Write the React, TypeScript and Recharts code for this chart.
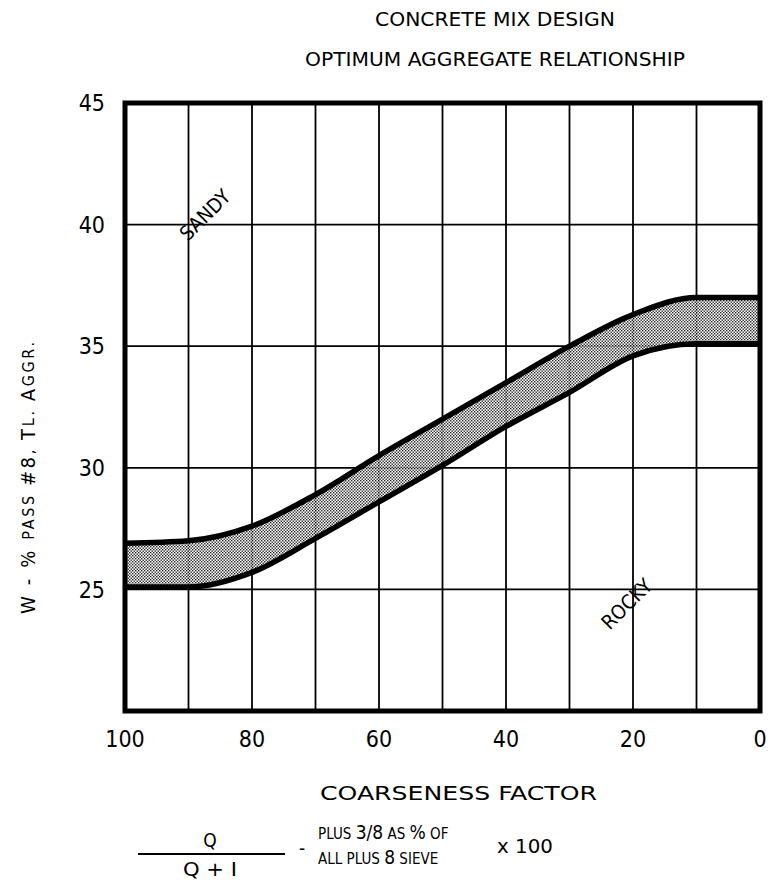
import React from 'react';
import { ComposedChart, Area, Line, XAxis, YAxis, CartesianGrid, ReferenceArea, ReferenceDot } from 'recharts';

// coarseness factor (x) and the two limit curves of the optimum band (W %)
const coarseness = [100, 90, 80, 70, 60, 50, 40, 30, 20, 10, 0];
const upperW = [26.9, 27.0, 27.6, 28.9, 30.5, 32.0, 33.5, 35.0, 36.3, 37.0, 37.0];
const lowerW = [25.1, 25.1, 25.7, 27.1, 28.6, 30.1, 31.7, 33.1, 34.6, 35.1, 35.1];

const xTicks = [100, 90, 80, 70, 60, 50, 40, 30, 20, 10, 0];
const yTicks = [20, 25, 30, 35, 40, 45];

const zones = [
  { name: 'SANDY', x: 87.4, y: 40.4 },
  { name: 'ROCKY', x: 21, y: 24.4 },
];

const data = coarseness.map((c, i) => ({
  x: c,
  upper: upperW[i],
  lower: lowerW[i],
  band: [lowerW[i], upperW[i]],
}));

const FONT = '"DejaVu Sans Condensed", "DejaVu Sans", sans-serif';

const ZoneLabel = (props: any) => {
  const { cx, cy, name } = props;
  return (
    <text
      x={cx}
      y={cy}
      textAnchor="middle"
      dominantBaseline="central"
      transform={`rotate(-45 ${cx} ${cy})`}
      fontFamily={FONT}
      fontSize={20}
      textLength={62}
      lengthAdjust="spacingAndGlyphs"
      fill="#000"
    >
      {name}
    </text>
  );
};

const App = () => {
  return (
    <div style={{ position: 'absolute', left: 0, top: 0, width: 777, height: 888, background: '#fff' }}>
      <ComposedChart
        width={777}
        height={888}
        data={data}
        margin={{ top: 103, right: 17, bottom: 147, left: 65 }}
      >
        <defs>
          <pattern id="dots" width="3" height="3" patternUnits="userSpaceOnUse">
            <rect width="3" height="3" fill="#fff" />
            <rect x="0" y="0" width="1.4" height="1.4" fill="#000" />
            <rect x="1.5" y="1.5" width="1.4" height="1.4" fill="#000" />
          </pattern>
        </defs>
        <CartesianGrid stroke="#000" strokeWidth={1.8} />
        <XAxis
          type="number"
          dataKey="x"
          domain={[0, 100]}
          reversed
          ticks={xTicks}
          interval={0}
          tickFormatter={(v: number) => (v % 20 === 0 ? String(v) : '')}
          axisLine={false}
          tickLine={false}
          tickSize={0}
          tickMargin={20}
          height={30}
          tick={{ fill: '#000', fontSize: 23, fontFamily: FONT }}
        />
        <YAxis
          type="number"
          domain={[20, 45]}
          ticks={yTicks}
          interval={0}
          tickFormatter={(v: number) => (v === 20 ? '' : String(v))}
          axisLine={false}
          tickLine={false}
          tickSize={0}
          tickMargin={20}
          width={60}
          tick={{ fill: '#000', fontSize: 23, fontFamily: FONT }}
        />
        <Area
          type="monotone"
          dataKey="band"
          stroke="none"
          fill="url(#dots)"
          fillOpacity={0.85}
          isAnimationActive={false}
        />
        <Line type="monotone" dataKey="upper" stroke="#000" strokeWidth={5.5} dot={false} isAnimationActive={false} />
        <Line type="monotone" dataKey="lower" stroke="#000" strokeWidth={5.5} dot={false} isAnimationActive={false} />
        {zones.map((z) => (
          <ReferenceDot
            key={z.name}
            x={z.x}
            y={z.y}
            r={0}
            ifOverflow="visible"
            shape={(p: any) => <ZoneLabel {...p} name={z.name} />}
          />
        ))}
        <ReferenceArea
          x1={0}
          x2={100}
          y1={20}
          y2={45}
          fill="none"
          fillOpacity={0}
          stroke="#000"
          strokeWidth={5}
          ifOverflow="visible"
        />
      </ComposedChart>
      <svg
        width={777}
        height={888}
        style={{ position: 'absolute', left: 0, top: 0, pointerEvents: 'none' }}
        fontFamily={FONT}
      >
        <text x={375} y={26} fontSize={20} textLength={240} lengthAdjust="spacingAndGlyphs">CONCRETE MIX DESIGN</text>
        <text x={305} y={66} fontSize={20} textLength={380} lengthAdjust="spacingAndGlyphs">OPTIMUM AGGREGATE RELATIONSHIP</text>
        <text x={320} y={800} fontSize={20} textLength={277} lengthAdjust="spacingAndGlyphs">COARSENESS FACTOR</text>
        <text x={210} y={847} textAnchor="middle" fontSize={19}>Q</text>
        <line x1={138} y1={854} x2={285} y2={854} stroke="#000" strokeWidth={2} />
        <text x={183} y={876} fontSize={19} textLength={54} lengthAdjust="spacingAndGlyphs">Q + I</text>
        <text x={302} y={855} textAnchor="middle" fontSize={19}>-</text>
        <text x={318} y={839} fontSize={15}>
          <tspan>PLUS </tspan><tspan fontSize={19}>3/8</tspan><tspan> AS </tspan><tspan fontSize={19}>%</tspan><tspan> OF</tspan>
        </text>
        <text x={318} y={864} fontSize={15}>
          <tspan>ALL PLUS </tspan><tspan fontSize={19}>8</tspan><tspan> SIEVE</tspan>
        </text>
        <text x={497} y={853} fontSize={19} textLength={56} lengthAdjust="spacingAndGlyphs">x 100</text>
        <text
          x={28}
          y={478}
          textAnchor="middle"
          dominantBaseline="central"
          transform="rotate(-90 28 478)"
          fontSize={16}
          textLength={272}
          lengthAdjust="spacing"
        >
          <tspan fontSize={20}>W - % </tspan>PASS <tspan fontSize={20}>#8</tspan>, <tspan fontSize={20}>T</tspan>L. <tspan fontSize={20}>A</tspan>GGR.
        </text>
      </svg>
    </div>
  );
};

export default App;
